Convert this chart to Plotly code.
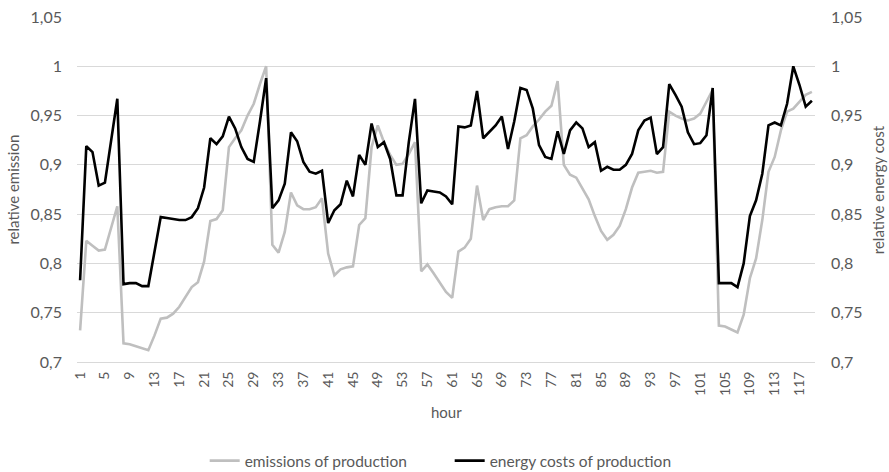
import plotly.graph_objects as go

hours = list(range(1, 120))

emissions = [
    0.732, 0.823, 0.818, 0.813, 0.814, 0.836, 0.858, 0.719, 0.718, 0.716,
    0.714, 0.712, 0.727, 0.744, 0.745, 0.749, 0.756, 0.766, 0.776, 0.781,
    0.802, 0.843, 0.845, 0.854, 0.918, 0.927, 0.935, 0.950, 0.962, 0.982,
    1.000, 0.819, 0.811, 0.832, 0.872, 0.859, 0.855, 0.855, 0.857, 0.866,
    0.810, 0.788, 0.794, 0.796, 0.797, 0.839, 0.846, 0.918, 0.940, 0.923,
    0.910, 0.900, 0.901, 0.911, 0.923, 0.792, 0.799, 0.790, 0.781, 0.771,
    0.765, 0.812, 0.816, 0.825, 0.879, 0.844, 0.855, 0.857, 0.858, 0.858,
    0.864, 0.927, 0.930, 0.939, 0.946, 0.954, 0.960, 0.985, 0.900, 0.890,
    0.887, 0.876, 0.865, 0.848, 0.833, 0.824, 0.829, 0.838, 0.855, 0.877,
    0.892, 0.893, 0.894, 0.892, 0.893, 0.954, 0.950, 0.947, 0.945, 0.947,
    0.952, 0.964, 0.976, 0.737, 0.736, 0.733, 0.730, 0.748, 0.785, 0.805,
    0.844, 0.893, 0.908, 0.935, 0.954, 0.957, 0.964, 0.971, 0.974,
]

energy_costs = [
    0.783, 0.919, 0.913, 0.879, 0.882, 0.925, 0.967, 0.779, 0.780, 0.780,
    0.777, 0.777, 0.812, 0.847, 0.846, 0.845, 0.844, 0.844, 0.847, 0.856,
    0.877, 0.927, 0.921, 0.929, 0.949, 0.937, 0.918, 0.906, 0.903, 0.944,
    0.988, 0.856, 0.864, 0.881, 0.933, 0.924, 0.903, 0.893, 0.891, 0.894,
    0.841, 0.854, 0.860, 0.884, 0.868, 0.910, 0.900, 0.942, 0.918, 0.923,
    0.906, 0.869, 0.869, 0.923, 0.967, 0.861, 0.874, 0.873, 0.872, 0.868,
    0.860, 0.939, 0.938, 0.940, 0.975, 0.927, 0.933, 0.940, 0.949, 0.916,
    0.944, 0.978, 0.976, 0.957, 0.920, 0.908, 0.906, 0.934, 0.911, 0.935,
    0.943, 0.937, 0.918, 0.923, 0.894, 0.898, 0.895, 0.895, 0.900, 0.911,
    0.935, 0.945, 0.948, 0.911, 0.918, 0.982, 0.971, 0.959, 0.933, 0.921,
    0.922, 0.930, 0.978, 0.780, 0.780, 0.780, 0.776, 0.800, 0.848, 0.864,
    0.891, 0.940, 0.943, 0.940, 0.962, 1.000, 0.981, 0.959, 0.965,
]

x_ticks = list(range(1, 120, 4))

FONT = "Lato, Open Sans, sans-serif"
TXT = "#595959"
GRID = "#d9d9d9"

fig = go.Figure()
fig.add_trace(go.Scatter(
    x=hours, y=emissions, name="emissions of production", mode="lines",
    line=dict(color="#bfbfbf", width=2.6), yaxis="y"))
fig.add_trace(go.Scatter(
    x=hours, y=energy_costs, name="energy costs of production", mode="lines",
    line=dict(color="#000000", width=2.6), yaxis="y2"))

fig.update_layout(
    width=889, height=472,
    margin=dict(l=77, r=74, t=17, b=110, autoexpand=False),
    paper_bgcolor="white", plot_bgcolor="white",
    separators=",.",
    font=dict(family=FONT, color=TXT, size=15),
    xaxis=dict(
        range=[0.5, 119.5], tickmode="array", tickvals=x_ticks,
        tickangle=-90, tickfont=dict(size=14, color=TXT),
        showgrid=False, zeroline=False, showline=True, linecolor=GRID, linewidth=1,
        ticks="", ticklabelstandoff=3, automargin=False,
    ),
    yaxis=dict(
        range=[0.7, 1.05], dtick=0.05, tick0=0.7,
        showgrid=True, gridcolor=GRID, gridwidth=1, zeroline=False,
        tickfont=dict(size=16, color=TXT), ticks="", ticklabelstandoff=14,
        automargin=False,
    ),
    yaxis2=dict(
        range=[0.7, 1.05], dtick=0.05, tick0=0.7, overlaying="y", side="right",
        showgrid=False, zeroline=False,
        tickfont=dict(size=16, color=TXT), ticks="", ticklabelstandoff=15,
        automargin=False,
    ),
    legend=dict(
        orientation="h", x=0.505, xanchor="center", y=-0.287, yanchor="middle",
        font=dict(size=15.5, color=TXT), bgcolor="rgba(0,0,0,0)",
        itemwidth=30, tracegroupgap=0, entrywidth=200, entrywidthmode="pixels",
    ),
    annotations=[
        dict(text="relative emission", xref="paper", yref="paper",
             x=-0.088, y=0.5, xanchor="center", yanchor="middle",
             textangle=-90, showarrow=False, font=dict(size=15, color=TXT)),
        dict(text="relative energy cost", xref="paper", yref="paper",
             x=1.085, y=0.5, xanchor="center", yanchor="middle",
             textangle=-90, showarrow=False, font=dict(size=15, color=TXT)),
        dict(text="hour", xref="paper", yref="paper",
             x=0.5, y=-0.145, xanchor="center", yanchor="middle",
             showarrow=False, font=dict(size=15, color=TXT)),
    ],
    showlegend=True,
)

fig.write_html(
    "out.html",
    config={"displayModeBar": False},
    post_script="document.body.style.margin='0';document.body.style.overflow='hidden';",
)
